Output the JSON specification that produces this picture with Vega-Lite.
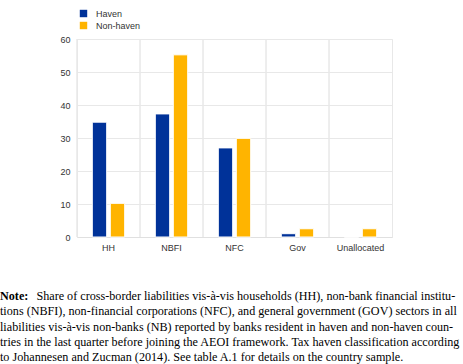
{
  "$schema": "https://vega.github.io/schema/vega-lite/v6.json",
  "width": 315,
  "height": 198,
  "autosize": {"type": "none"},
  "padding": {"left": 77, "top": 39, "right": 71, "bottom": 127},
  "background": "white",
  "data": {
    "values": [
      {"sector": "HH", "group": "Haven", "share": 34.8},
      {"sector": "HH", "group": "Non-haven", "share": 10.2},
      {"sector": "NBFI", "group": "Haven", "share": 37.3},
      {"sector": "NBFI", "group": "Non-haven", "share": 55.2},
      {"sector": "NFC", "group": "Haven", "share": 27.0},
      {"sector": "NFC", "group": "Non-haven", "share": 29.9},
      {"sector": "Gov", "group": "Haven", "share": 1.0},
      {"sector": "Gov", "group": "Non-haven", "share": 2.5},
      {"sector": "Unallocated", "group": "Haven", "share": 0},
      {"sector": "Unallocated", "group": "Non-haven", "share": 2.5}
    ]
  },
  "title": {
    "text": "Note:",
    "subtitle": [
      "\u200b\u00a0\u00a0\u00a0\u00a0\u00a0\u00a0\u00a0\u00a0\u00a0\u00a0\u00a0\u00a0Share of cross-border liabilities vis-à-vis households (HH), non-bank financial institu-",
      "tions (NBFI), non-financial corporations (NFC), and general government (GOV) sectors in all",
      "liabilities vis-à-vis non-banks (NB) reported by banks resident in haven and non-haven coun-",
      "tries in the last quarter before joining the AEOI framework. Tax haven classification according",
      "to Johannesen and Zucman (2014). See table A.1 for details on the country sample."
    ],
    "orient": "bottom",
    "anchor": "start",
    "frame": "group",
    "dx": -77,
    "offset": 38,
    "font": "Liberation Serif",
    "fontSize": 12.15,
    "fontWeight": "bold",
    "color": "#000000",
    "subtitleFont": "Liberation Serif",
    "subtitleFontSize": 12.15,
    "subtitleColor": "#000000",
    "subtitleLineHeight": 15.25,
    "subtitlePadding": -12
  },
  "config": {
    "view": {"stroke": "#e8e8e8"},
    "axis": {
      "labelFont": "Liberation Sans",
      "labelFontSize": 9,
      "labelColor": "#333333",
      "gridColor": "#e8e8e8",
      "domainColor": "#e0e0e0",
      "ticks": false,
      "title": null
    },
    "legend": {
      "labelFont": "Liberation Sans",
      "labelFontSize": 9,
      "labelColor": "#333333"
    }
  },
  "encoding": {
    "x": {
      "field": "sector",
      "type": "nominal",
      "sort": ["HH", "NBFI", "NFC", "Gov", "Unallocated"],
      "scale": {"paddingInner": 0, "paddingOuter": 0},
      "axis": {"labelAngle": 0, "labelPadding": 6, "grid": false, "domain": true}
    }
  },
  "layer": [
    {
      "mark": {"type": "rule", "color": "#e8e8e8", "strokeWidth": 1},
      "encoding": {
        "x": {
          "field": "sector",
          "type": "nominal",
          "sort": ["HH", "NBFI", "NFC", "Gov", "Unallocated"],
          "bandPosition": 0
        }
      }
    },
    {
      "mark": {"type": "bar", "stroke": "white", "strokeWidth": 1},
      "encoding": {
        "xOffset": {
          "field": "group",
          "type": "nominal",
          "scale": {"paddingInner": 0.2, "paddingOuter": 0.85}
        },
        "y": {
          "field": "share",
          "type": "quantitative",
          "scale": {"domain": [0, 60]},
          "axis": {"values": [0, 10, 20, 30, 40, 50, 60], "labelPadding": 7, "domain": false, "grid": true}
        },
        "color": {
          "field": "group",
          "type": "nominal",
          "scale": {"domain": ["Haven", "Non-haven"], "range": ["#003299", "#FFB400"]},
          "legend": {
            "title": null,
            "orient": "none",
            "legendX": 2,
            "legendY": -30,
            "symbolType": "square",
            "symbolSize": 55,
            "symbolStrokeWidth": 0,
            "rowPadding": 2,
            "labelOffset": 8
          }
        }
      }
    }
  ]
}
